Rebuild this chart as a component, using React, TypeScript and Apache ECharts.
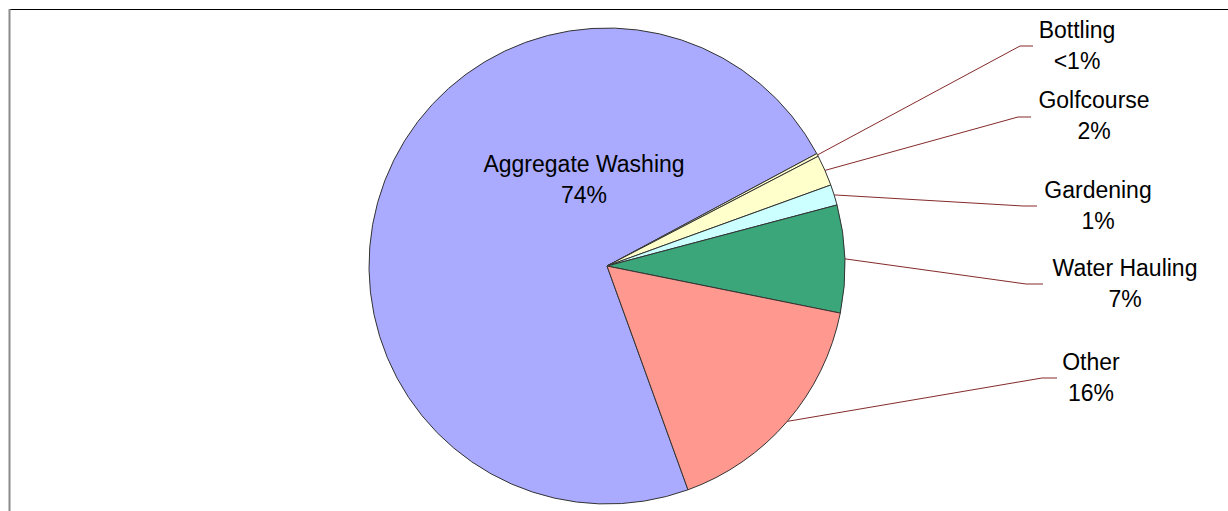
import React, { useEffect, useRef } from "react";
import * as echarts from "echarts";

// ---- data ----
const categories = ["Aggregate Washing", "Bottling", "Golfcourse", "Gardening", "Water Hauling", "Other"];
const values = [72.7, 0.2, 2.1, 1.4, 7.3, 16.3];
const percentLabels = ["74%", "<1%", "2%", "1%", "7%", "16%"];
const colors = ["#AAABFF", "#FFFFCC", "#FFFFCC", "#CCFFFF", "#3CA67B", "#FF9990"];

// ---- label layout (page pixels) ----
const labelCenterX = [584, 1077, 1094, 1098, 1125, 1091];
const labelCenterY = [179, 45, 115, 205, 283, 377];
const lineElbowX = [0, 1020, 1018, 1023, 1026, 1042];
const lineEndX = [0, 1033, 1031, 1037, 1043, 1057];
const lineY = [0, 46, 117, 206, 284, 378];

export default function App() {
  const ref = useRef<HTMLDivElement>(null);
  useEffect(() => {
    if (!ref.current) return;
    const chart = echarts.init(ref.current, null, { renderer: "svg" });
    const data = categories.map((name, i) => ({
      name,
      value: values[i],
      itemStyle: { color: colors[i] },
      label: i === 0 ? { position: "inside" as const } : undefined,
      labelLine: i === 0 ? { show: false } : undefined,
    }));
    chart.setOption({
      animation: false,
      backgroundColor: "#ffffff",
      graphic: [
        { type: "line", shape: { x1: 9, y1: 9.5, x2: 1228, y2: 9.5 }, style: { stroke: "#000", lineWidth: 1 } },
        { type: "line", shape: { x1: 9.5, y1: 9, x2: 9.5, y2: 511 }, style: { stroke: "#8a8a8a", lineWidth: 2 } },
      ],
      series: [
        {
          type: "pie",
          center: [607, 266],
          radius: 238,
          startAngle: -70.1,
          clockwise: true,
          avoidLabelOverlap: false,
          minAngle: 0,
          emphasis: { disabled: true },
          itemStyle: { borderColor: "#333", borderWidth: 1 },
          label: {
            show: true,
            position: "outside",
            color: "#000",
            fontFamily: "'Liberation Sans', Arial, sans-serif",
            fontSize: 23,
            lineHeight: 31,
            align: "center",
            formatter: (p: any) => `${p.name}\n${percentLabels[p.dataIndex]}`,
          },
          labelLine: {
            show: true,
            length: 20,
            length2: 20,
            lineStyle: { color: "#852a2a", width: 1 },
          },
          labelLayout: (params: any) => {
            const i = params.dataIndex;
            const res: any = {
              x: labelCenterX[i],
              y: labelCenterY[i],
              align: "center",
              verticalAlign: "middle",
            };
            if (i > 0 && params.labelLinePoints) {
              const p0 = params.labelLinePoints[0];
              res.labelLinePoints = [
                [p0[0], p0[1]],
                [lineElbowX[i], lineY[i]],
                [lineEndX[i], lineY[i]],
              ];
            }
            return res;
          },
          data,
        },
      ],
    });
    return () => chart.dispose();
  }, []);
  return (
    <div
      ref={ref}
      style={{ position: "fixed", left: 0, top: 0, width: 1228, height: 511 }}
    />
  );
}
